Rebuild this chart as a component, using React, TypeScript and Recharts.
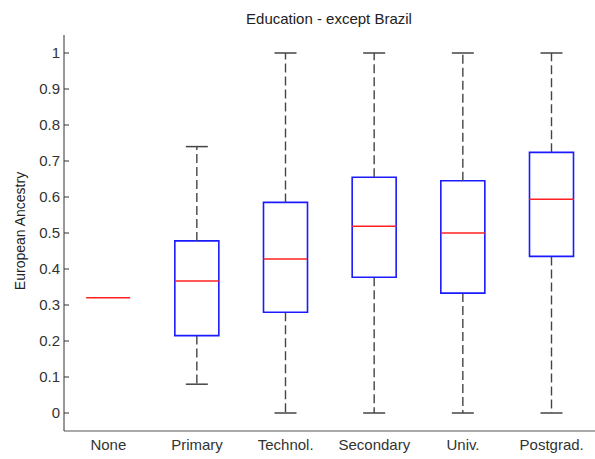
import React from "react"
import { ComposedChart, Bar, XAxis, YAxis } from "recharts"

const categories = ["None", "Primary", "Technol.", "Secondary", "Univ.", "Postgrad."]
const whiskerLow = [0.32, 0.08, 0, 0, 0, 0]
const quartile1 = [0.32, 0.215, 0.28, 0.377, 0.333, 0.435]
const medians = [0.32, 0.367, 0.428, 0.519, 0.5, 0.594]
const quartile3 = [0.32, 0.478, 0.585, 0.655, 0.645, 0.724]
const whiskerHigh = [0.32, 0.74, 1, 1, 1, 1]
const yTicks = [0, 0.1, 0.2, 0.3, 0.4, 0.5, 0.6, 0.7, 0.8, 0.9, 1]

// stacked segments: invisible base, lower whisker, lower box, upper box, upper whisker
const data = categories.map((name, i) => ({
  name,
  base: whiskerLow[i],
  lowWhisker: quartile1[i] - whiskerLow[i],
  lowBox: medians[i] - quartile1[i],
  highBox: quartile3[i] - medians[i],
  highWhisker: whiskerHigh[i] - quartile3[i],
}))

const FONT = "'Liberation Sans', Arial, sans-serif"
const BLUE = "#1a1aff"
const RED = "#ff2020"
const WHISKER = "#444"

const Empty = () => <g />

const LowWhisker = (props: any) => {
  const { x, y, width, height } = props
  if (!height) return <g />
  const cx = x + width / 2
  const bottom = y + height
  return (
    <g>
      <line x1={cx} x2={cx} y1={y} y2={bottom} stroke={WHISKER} strokeWidth={1.4} strokeDasharray="9 4" />
      <line x1={cx - width / 4} x2={cx + width / 4} y1={bottom} y2={bottom} stroke={WHISKER} strokeWidth={1.5} />
    </g>
  )
}

const HighWhisker = (props: any) => {
  const { x, y, width, height } = props
  if (!height) return <g />
  const cx = x + width / 2
  return (
    <g>
      <line x1={cx} x2={cx} y1={y + height} y2={y} stroke={WHISKER} strokeWidth={1.4} strokeDasharray="9 4" />
      <line x1={cx - width / 4} x2={cx + width / 4} y1={y} y2={y} stroke={WHISKER} strokeWidth={1.5} />
    </g>
  )
}

const LowBox = (props: any) => {
  const { x, y, width, height } = props
  if (!height) return <g />
  return (
    <path
      d={`M${x},${y} V${y + height} H${x + width} V${y}`}
      fill="none"
      stroke={BLUE}
      strokeWidth={1.6}
    />
  )
}

const HighBox = (props: any) => {
  const { x, y, width, height } = props
  const bottom = y + height
  return (
    <g>
      {height ? (
        <path d={`M${x},${bottom} V${y} H${x + width} V${bottom}`} fill="none" stroke={BLUE} strokeWidth={1.6} />
      ) : null}
      <line x1={x} x2={x + width} y1={bottom} y2={bottom} stroke={RED} strokeWidth={1.5} />
    </g>
  )
}

const fmt = (v: number) => String(Number(v.toFixed(1)))

export default function App() {
  return (
    <div style={{ position: "absolute", left: 0, top: 0, width: 596, height: 459, fontFamily: FONT }}>
      <ComposedChart
        width={596}
        height={459}
        data={data}
        margin={{ top: 35, right: 0, bottom: 0, left: 0 }}
        barCategoryGap="25%"
      >
        <XAxis
          dataKey="name"
          height={28}
          tickLine={false}
          axisLine={{ stroke: "#555" }}
          tick={{ fill: "#333", fontSize: 15, fontFamily: FONT }}
          interval={0}
        />
        <XAxis xAxisId="top" dataKey="name" orientation="top" height={0} tick={false} tickLine={false} axisLine={{ stroke: "#777" }} />
        <YAxis
          type="number"
          domain={[-0.05, 1.05]}
          ticks={yTicks}
          width={64}
          tickSize={-5}
          tickMargin={9}
          tickFormatter={fmt}
          axisLine={{ stroke: "#333" }}
          tickLine={{ stroke: "#333" }}
          tick={{ fill: "#333", fontSize: 15, fontFamily: FONT }}
          allowDataOverflow
        />
        <YAxis
          yAxisId="r"
          orientation="right"
          type="number"
          domain={[-0.05, 1.05]}
          ticks={yTicks}
          width={0}
          tickSize={-6}
          tick={false}
          axisLine={{ stroke: "#555" }}
          tickLine={{ stroke: "#555" }}
          allowDataOverflow
        />
        <Bar dataKey="base" stackId="box" shape={<Empty />} isAnimationActive={false} />
        <Bar dataKey="lowWhisker" stackId="box" shape={<LowWhisker />} isAnimationActive={false} />
        <Bar dataKey="lowBox" stackId="box" shape={<LowBox />} isAnimationActive={false} />
        <Bar dataKey="highBox" stackId="box" shape={<HighBox />} isAnimationActive={false} />
        <Bar dataKey="highWhisker" stackId="box" shape={<HighWhisker />} isAnimationActive={false} />
      </ComposedChart>
      <svg width={596} height={459} style={{ position: "absolute", left: 0, top: 0, pointerEvents: "none" }}>
        <text x={329} y={24} textAnchor="middle" fontSize={15} fontFamily={FONT} fill="#222">
          Education - except Brazil
        </text>
        <text
          x={25}
          y={231}
          transform="rotate(-90 25 231)"
          textAnchor="middle"
          fontSize={14}
          fontFamily={FONT}
          fill="#222"
        >
          European Ancestry
        </text>
      </svg>
    </div>
  )
}
